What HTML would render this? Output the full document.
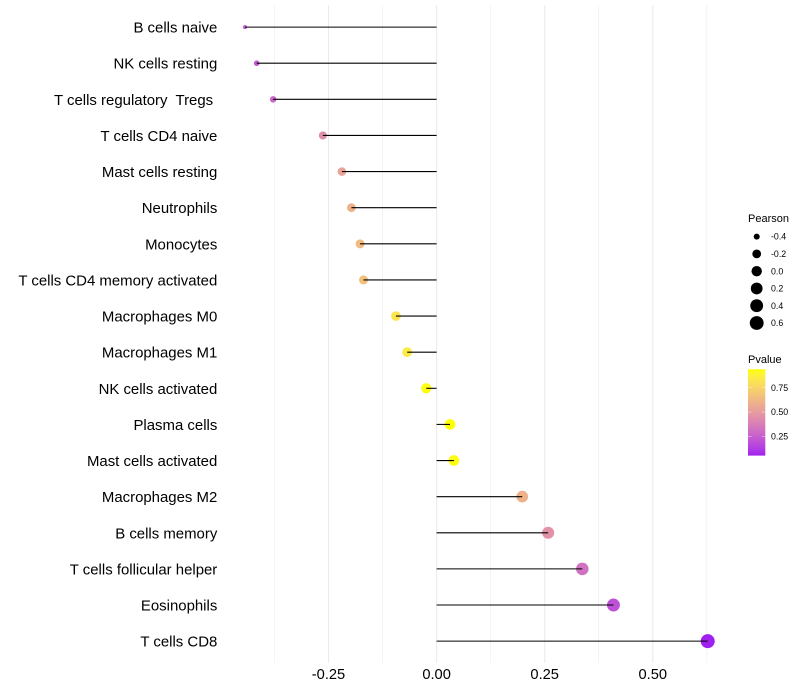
<!DOCTYPE html>
<html lang="en">
<head>
<meta charset="utf-8">
<title>Pearson lollipop chart</title>
<style>
html,body{margin:0;padding:0;background:#fff;}
svg{display:block;font-family:"Liberation Sans",sans-serif;}
text{white-space:pre;}
</style>
</head>
<body>
<svg id="chart" width="800" height="700" viewBox="0 0 800 700" xmlns="http://www.w3.org/2000/svg">
<defs><linearGradient id="pvalue-gradient" x1="0" y1="1" x2="0" y2="0"></linearGradient></defs>
</svg>
<script>
const categories = ["B cells naive","NK cells resting","T cells regulatory  Tregs ","T cells CD4 naive","Mast cells resting","Neutrophils","Monocytes","T cells CD4 memory activated","Macrophages M0","Macrophages M1","NK cells activated","Plasma cells","Mast cells activated","Macrophages M2","B cells memory","T cells follicular helper","Eosinophils","T cells CD8"];
const pearsonValues = [-0.443,-0.416,-0.378,-0.263,-0.219,-0.197,-0.177,-0.169,-0.094,-0.068,-0.024,0.031,0.040,0.198,0.258,0.337,0.409,0.627];
const pValues = [0.21,0.23,0.27,0.44,0.54,0.60,0.64,0.66,0.82,0.85,0.93,0.94,0.93,0.60,0.46,0.32,0.20,0.052];
const xMajorTicks = [-0.25,0,0.25,0.5];
const xMinorTicks = [-0.375,-0.125,0.125,0.375,0.625];
const xTickLabels = ["-0.25","0.00","0.25","0.50"];
const sizeLegendValues = [-0.4,-0.2,0,0.2,0.4,0.6];
const sizeLegendLabels = ["-0.4","-0.2","0.0","0.2","0.4","0.6"];
const colorLegendValues = [0.25,0.5,0.75];
const colorLegendLabels = ["0.25","0.50","0.75"];
const pDomain = [0.052,0.94];
const pearsonDomain = [-0.443,0.627];

const NS = "http://www.w3.org/2000/svg";
const svg = document.getElementById("chart");
const xScale = v => 436.6 + 432.4 * v;
const yScale = i => 27.1 + 36.12 * i;
const radius = v => {
  const t = Math.min(1, Math.max(0, (v - pearsonDomain[0]) / (pearsonDomain[1] - pearsonDomain[0])));
  return 2 + 5 * Math.sqrt(t);
};

function make(tag, attrs, text) {
  const el = document.createElementNS(NS, tag);
  for (const k in attrs) el.setAttribute(k, attrs[k]);
  if (text !== undefined) el.textContent = text;
  return el;
}

function hexToLab(h) {
  const c = [1,3,5].map(i => parseInt(h.substr(i,2),16)/255).map(v => v > 0.04045 ? Math.pow((v+0.055)/1.055,2.4) : v/12.92);
  const X = (0.4124*c[0]+0.3576*c[1]+0.1805*c[2])/0.95047;
  const Y = 0.2126*c[0]+0.7152*c[1]+0.0722*c[2];
  const Z = (0.0193*c[0]+0.1192*c[1]+0.9505*c[2])/1.08883;
  const f = t => t > 0.008856 ? Math.cbrt(t) : 7.787*t + 16/116;
  return [116*f(Y)-16, 500*(f(X)-f(Y)), 200*(f(Y)-f(Z))];
}
function labToRgb(L) {
  const fy = (L[0]+16)/116, fx = fy + L[1]/500, fz = fy - L[2]/200;
  const g = t => t*t*t > 0.008856 ? t*t*t : (t-16/116)/7.787;
  const X = g(fx)*0.95047, Y = g(fy), Z = g(fz)*1.08883;
  const rgb = [3.2406*X-1.5372*Y-0.4986*Z, -0.9689*X+1.8758*Y+0.0415*Z, 0.0557*X-0.2040*Y+1.0570*Z];
  const out = rgb.map(v => { const u = v > 0.0031308 ? 1.055*Math.pow(v,1/2.4)-0.055 : 12.92*v; return Math.round(Math.min(1,Math.max(0,u))*255); });
  return "rgb(" + out.join(",") + ")";
}
const labLow = hexToLab("#a020f0");
const labHigh = hexToLab("#ffff00");
function colorOf(p) {
  const t = Math.min(1, Math.max(0, (p - pDomain[0]) / (pDomain[1] - pDomain[0])));
  return labToRgb(labLow.map((v,i) => v + (labHigh[i]-v)*t));
}

const plotTop = 5.3, plotBottom = 662.7;

xMinorTicks.forEach(v => {
  const g = make("line", {x1:xScale(v), x2:xScale(v), y1:plotTop, y2:plotBottom, stroke:"#ebebeb", "stroke-width":0.55});
  
  
  svg.appendChild(g);
});
xMajorTicks.forEach((v, i) => {
  const g = make("line", {x1:xScale(v), x2:xScale(v), y1:plotTop, y2:plotBottom, stroke:"#ebebeb", "stroke-width":1.07});
  
  
  svg.appendChild(g);
  const t = make("text", {x:xScale(v), y:679, "text-anchor":"middle", "font-size":14.67, fill:"#000"}, xTickLabels[i]);
  
  
  svg.appendChild(t);
});

categories.forEach((name, i) => {
  const v = pearsonValues[i];
  const t = make("text", {x:217.3, y:yScale(i)+5.5, "text-anchor":"end", "font-size":14.95, fill:"#000"}, name);
  
  
  svg.appendChild(t);
  const c = make("circle", {cx:xScale(v), cy:yScale(i), r:radius(v), fill:colorOf(pValues[i])});
  
  
  svg.appendChild(c);
  const l = make("line", {x1:xScale(0), x2:xScale(v), y1:yScale(i), y2:yScale(i), stroke:"#000", "stroke-width":1.07});
  
  
  svg.appendChild(l);
});

const sizeTitle = make("text", {x:748, y:222, "font-size":11, fill:"#000"}, "Pearson");


svg.appendChild(sizeTitle);
sizeLegendValues.forEach((v, i) => {
  const y = 236.6 + 17.28 * i;
  const c = make("circle", {cx:756.7, cy:y, r:radius(v), fill:"#000"});
  
  
  svg.appendChild(c);
  const t = make("text", {x:771, y:y+3.1, "font-size":8.8, fill:"#000"}, sizeLegendLabels[i]);
  
  
  svg.appendChild(t);
});

const colorTitle = make("text", {x:748, y:363, "font-size":11, fill:"#000"}, "Pvalue");


svg.appendChild(colorTitle);
const grad = document.getElementById("pvalue-gradient");
for (let k = 0; k <= 20; k++) {
  const p = pDomain[0] + (pDomain[1]-pDomain[0]) * k / 20;
  grad.appendChild(make("stop", {offset:(k*5)+"%", "stop-color":colorOf(p)}));
}
const barTop = 369.3, barBottom = 455.6, barX = 748, barW = 17.3;
const pToBar = p => barBottom - (p - pDomain[0]) / (pDomain[1]-pDomain[0]) * (barBottom - barTop);
const bar = make("rect", {x:barX, y:barTop, width:barW, height:barBottom-barTop, fill:"url(#pvalue-gradient)"});


svg.appendChild(bar);
colorLegendValues.forEach((p, i) => {
  const y = pToBar(p);
  [[barX, barX+3.5],[barX+barW-3.5, barX+barW]].forEach(seg => {
    const tk = make("line", {x1:seg[0], x2:seg[1], y1:y, y2:y, stroke:"#fff", "stroke-width":0.4});
    
    
    svg.appendChild(tk);
  });
  const t = make("text", {x:771, y:y+3.1, "font-size":8.8, fill:"#000"}, colorLegendLabels[i]);
  
  
  svg.appendChild(t);
});
</script>
</body>
</html>
